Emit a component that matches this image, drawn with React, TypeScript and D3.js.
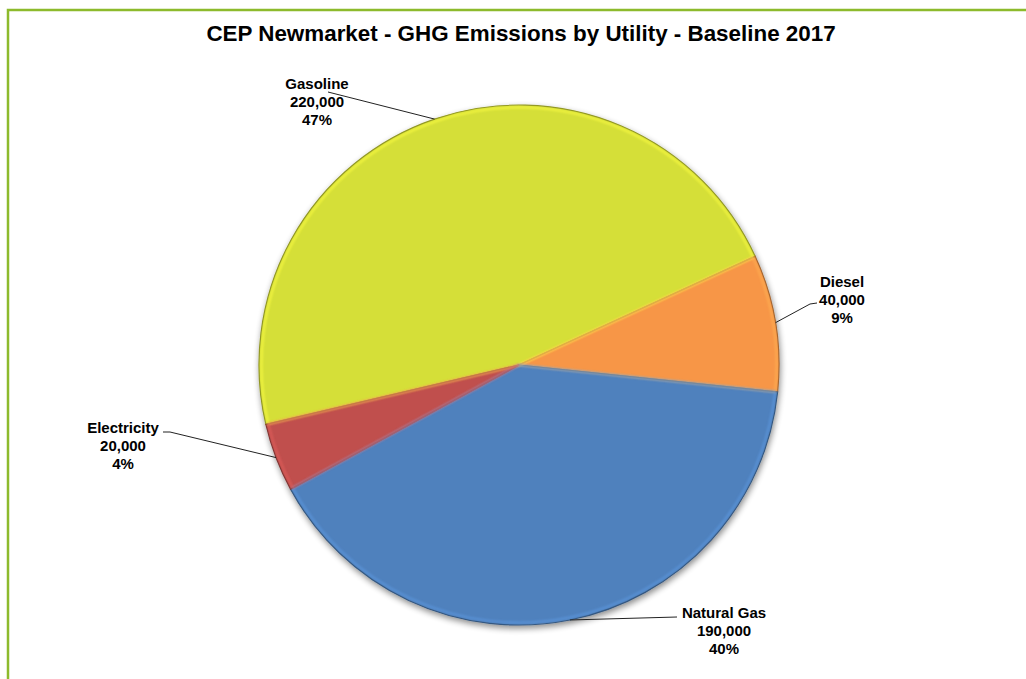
import React from "react";
import * as d3 from "d3";

const categories = ["Gasoline", "Diesel", "Natural Gas", "Electricity"];
const values = [220000, 40000, 190000, 20000];
const colors = ["#d5df37", "#f79646", "#4f81bd", "#c0504d"];
const title = "CEP Newmarket - GHG Emissions by Utility - Baseline 2017";

// label layout (same order as categories): text center x, first baseline y, leader-line start points
const labelLayout = [
  { x: 317, y: 89, line: [[328, 92]] },
  { x: 842, y: 287, line: [[817, 303], [810, 304]] },
  { x: 724, y: 618, line: [[677, 617]] },
  { x: 123, y: 433, line: [[163, 432], [170, 432]] },
];

const W = 1026;
const H = 679;
const cx = 519;
const cy = 365;
const R = 260;

export default function App() {
  const total = d3.sum(values);
  const start = (-103.2 * Math.PI) / 180;
  const pie = d3
    .pie<number>()
    .sort(null)
    .startAngle(start)
    .endAngle(start + 2 * Math.PI)
    .value((d) => d);
  const arcs = pie(values);
  const arc = d3.arc<d3.PieArcDatum<number>>().innerRadius(0).outerRadius(R);
  const innerArc = d3.arc<d3.PieArcDatum<number>>().innerRadius(0).outerRadius(R - 2.5);
  const fmt = d3.format(",");
  const pct = d3.format(".0%");

  return (
    <svg
      width={W}
      height={H}
      style={{ position: "absolute", left: 0, top: 0, background: "#fff" }}
      fontFamily="'Liberation Sans', Arial, sans-serif"
    >
      <defs>
        <filter id="sh" x="-20%" y="-20%" width="140%" height="140%">
          <feGaussianBlur in="SourceAlpha" stdDeviation="3" />
          <feOffset dx="1" dy="3" result="b" />
          <feComponentTransfer>
            <feFuncA type="linear" slope="0.45" />
          </feComponentTransfer>
          <feMerge>
            <feMergeNode />
            <feMergeNode in="SourceGraphic" />
          </feMerge>
        </filter>
        <filter id="blur1">
          <feGaussianBlur stdDeviation="1" />
        </filter>
      </defs>
      <rect x={0} y={0} width={W} height={H} fill="#fff" />
      <rect x={8} y={10} width={W + 20} height={H + 20} fill="#fff" stroke="#8dba2c" strokeWidth={2.5} />
      <text
        x={521}
        y={41}
        textAnchor="middle"
        fontSize={22.4}
        fontWeight="bold"
        fill="#000"
      >
        {title}
      </text>
      <g transform={`translate(${cx},${cy})`}>
        <g filter="url(#sh)">
          {arcs.map((a, i) => (
            <path
              key={i}
              d={arc(a) || ""}
              fill={colors[i]}
              stroke={d3.color(colors[i])!.darker(1.2).formatHex()}
              strokeWidth={1.2}
            />
          ))}
        </g>
        {arcs.map((a, i) => (
          <path
            key={"h" + i}
            d={innerArc(a) || ""}
            fill="none"
            stroke={d3.color(colors[i])!.brighter(0.5).formatHex()}
            strokeWidth={2}
            strokeOpacity={0.7}
            filter="url(#blur1)"
          />
        ))}
      </g>
      {arcs.map((a, i) => {
        const mid = (a.startAngle + a.endAngle) / 2;
        const px = cx + R * Math.sin(mid);
        const py = cy - R * Math.cos(mid);
        const L = labelLayout[i];
        const pts = [...L.line, [px, py]];
        return (
          <g key={"l" + i}>
            <polyline
              points={pts.map((p) => p.join(",")).join(" ")}
              fill="none"
              stroke="#222"
              strokeWidth={1}
            />
            <text textAnchor="middle" fontSize={15} fontWeight="bold" fill="#000">
              <tspan x={L.x} y={L.y}>{categories[i]}</tspan>
              <tspan x={L.x} y={L.y + 18}>{fmt(values[i])}</tspan>
              <tspan x={L.x} y={L.y + 36}>{pct(values[i] / total)}</tspan>
            </text>
          </g>
        );
      })}
    </svg>
  );
}
